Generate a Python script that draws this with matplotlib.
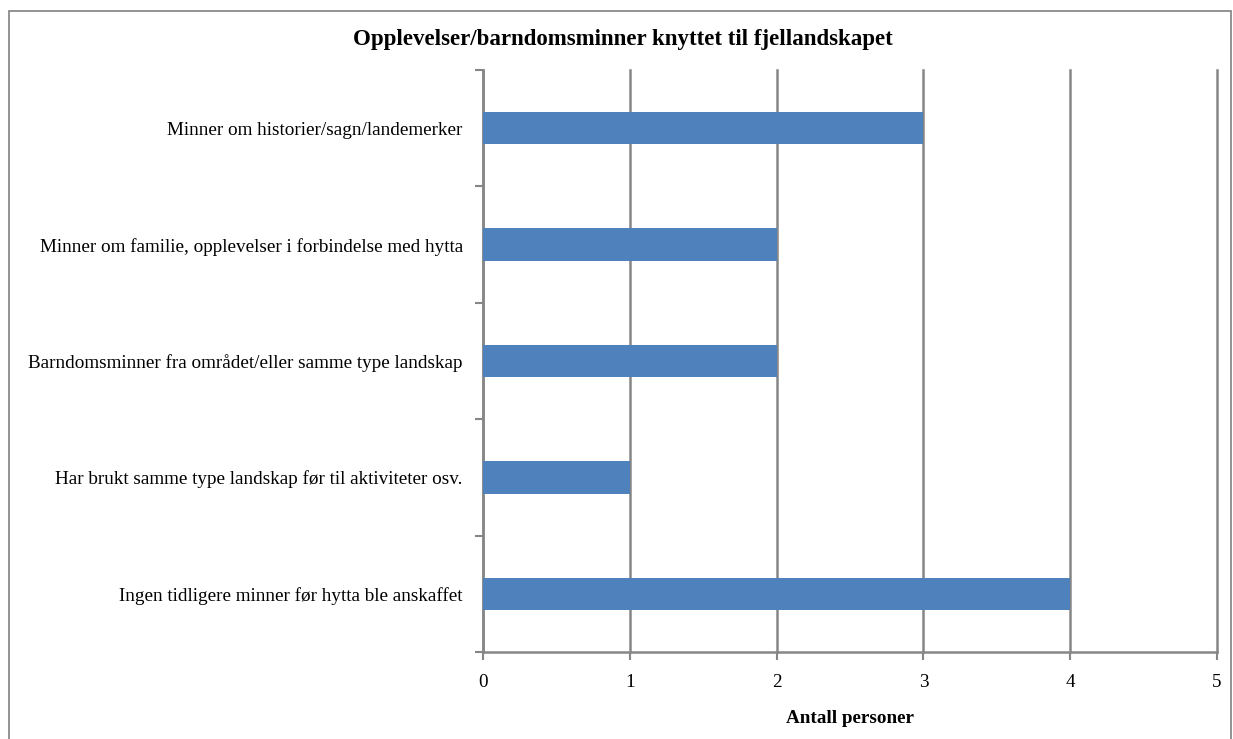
import matplotlib.pyplot as plt
from matplotlib.patches import Rectangle
import numpy as np

categories = [
  'Minner om historier/sagn/landemerker',
  'Minner om familie, opplevelser i forbindelse med hytta',
  'Barndomsminner fra området/eller samme type landskap',
  'Har brukt samme type landskap før til aktiviteter osv.',
  'Ingen tidligere minner før hytta ble anskaffet',
]
counts = [3, 2, 2, 1, 4]
x_ticks = [0, 1, 2, 3, 4, 5]

plt.rcParams['font.family'] = ['Liberation Serif', 'DejaVu Serif']

fig = plt.figure(figsize=(12.33, 7.39), dpi=100)
W, H = 1233, 739
ax = fig.add_axes([483 / W, 1 - 652 / H, (1217 - 483) / W, (652 - 70) / H])

grid_col = '#868686'
n = len(categories)
y = np.arange(n)[::-1]
ax.barh(y, counts, height=0.28, color='#4F81BD', zorder=3)

ax.set_xlim(0, 5)
ax.set_ylim(-0.5, n - 0.5)
ax.set_xticks(x_ticks)
ax.set_xticklabels([str(t) for t in x_ticks], fontsize=13.8)
ax.set_yticks(y)
ax.set_yticklabels(categories, fontsize=13.8)
ax.tick_params(axis='y', length=0, pad=14.5)
ax.set_yticks(np.arange(-0.5, n), minor=True)
ax.tick_params(axis='y', which='minor', length=6, width=1.5, color=grid_col)
ax.tick_params(axis='x', length=6, width=1.5, color=grid_col, pad=10)

ax.grid(axis='x', color=grid_col, linewidth=1.8, zorder=0)
for gl in ax.get_xgridlines():
  gl.set_clip_on(False)
for s in ['top', 'right']:
  ax.spines[s].set_visible(False)
for s in ['left', 'bottom']:
  ax.spines[s].set_color(grid_col)
  ax.spines[s].set_linewidth(1.8)

ax.set_xlabel('Antall personer', fontsize=13.8, fontweight='bold', labelpad=13.5)
fig.text(623 / W, 1 - 40 / H, 'Opplevelser/barndomsminner knyttet til fjellandskapet',
         ha='center', va='center', fontsize=16.5, fontweight='bold')

fig.patches.append(Rectangle((9 / W, -0.01), (1231 - 9) / W, 1 - 11 / H + 0.01,
                             transform=fig.transFigure, fill=False,
                             edgecolor='#808080', linewidth=1.2))

plt.savefig('out.png', dpi=100)
